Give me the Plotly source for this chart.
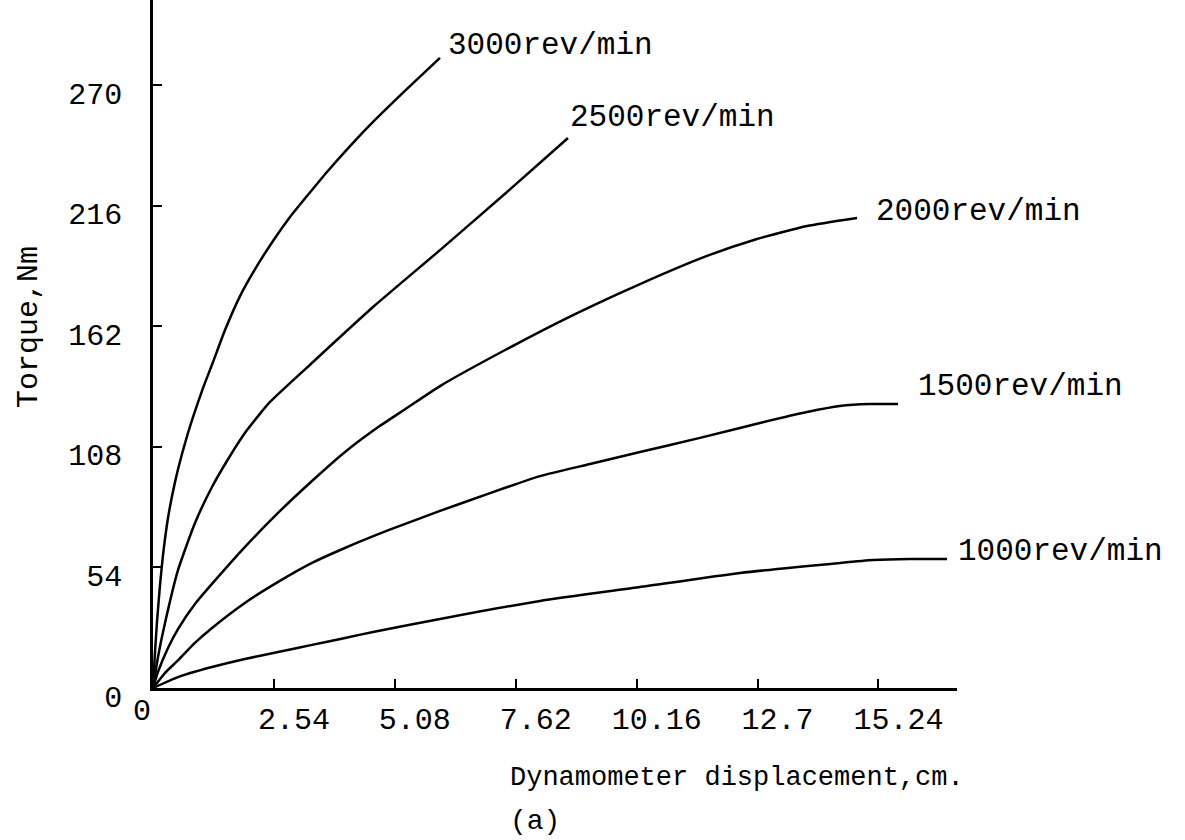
import plotly.graph_objects as go

# ---- data (x: displacement cm, y: torque Nm) ----
x_3000 = [0, 0.042, 0.084, 0.147, 0.210, 0.315, 0.462, 0.609, 0.735, 0.840, 1.050, 1.261, 1.513,
          1.828, 2.185, 2.521, 2.878, 3.235, 3.655, 4.139, 4.622, 5.336, 6.029]
y_3000 = [0, 16.1, 29.6, 46.1, 59.5, 76.1, 92.2, 104.8, 114.2, 121.3, 134.3, 146.0, 160.3,
          175.5, 189.0, 200.2, 210.9, 220.3, 231.1, 242.7, 253.5, 268.3, 282.2]

x_2500 = [0, 0.105, 0.252, 0.525, 0.882, 1.239, 1.618, 1.975, 2.458, 3.361, 4.622, 6.029, 7.437, 8.718]
y_2500 = [0, 13.9, 29.1, 52.8, 73.9, 90.0, 103.9, 115.5, 128.1, 146.0, 170.6, 196.1, 222.1, 246.3]

x_2000 = [0, 0.105, 0.315, 0.525, 0.882, 1.239, 1.933, 2.626, 3.340, 4.034, 4.769, 5.336, 6.029,
          7.437, 8.824, 10.231, 11.639, 12.689, 13.739, 14.790]
y_2000 = [0, 7.2, 17.9, 26.4, 37.6, 46.6, 63.2, 78.4, 92.7, 105.7, 117.4, 125.4, 135.2,
          151.8, 167.0, 180.9, 193.5, 201.1, 206.9, 210.5]

x_1500 = [0, 0.25, 0.53, 0.88, 1.24, 1.93, 2.63, 3.34, 4.03, 4.96, 6.03, 7.08, 8.13, 9.18, 10.23,
          11.49, 12.75, 13.74, 14.43, 15.06, 15.65]
y_1500 = [0, 6.7, 12.5, 20.2, 26.9, 38.1, 47.5, 56.0, 62.7, 70.8, 79.3, 87.3, 94.9, 100.3, 105.7,
          112.0, 118.7, 123.6, 126.3, 127.2, 127.2]

x_1000 = [0, 0.525, 1.239, 1.933, 2.626, 3.340, 4.034, 4.622, 6.029, 8.130, 10.231, 12.332,
          14.433, 15.126, 15.903, 16.681]
y_1000 = [0, 4.9, 9.4, 13.0, 16.1, 19.3, 22.4, 25.1, 30.9, 39.0, 45.2, 51.5,
          56.0, 57.3, 57.8, 57.8]

series_names = ["3000rev/min", "2500rev/min", "2000rev/min", "1500rev/min", "1000rev/min"]
series_x = [x_3000, x_2500, x_2000, x_1500, x_1000]
series_y = [y_3000, y_2500, y_2000, y_1500, y_1000]

x_tickvals = [2.54, 5.08, 7.62, 10.16, 12.7, 15.24]
x_ticktext = ["2.54", "5.08", "7.62", "10.16", "12.7", "15.24"]
y_tickvals = [0, 54, 108, 162, 216, 270]
y_ticktext = ["0", "54", "108", "162", "216", "270"]

FONT = "Liberation Mono, Courier New, monospace"

fig = go.Figure()
for name, xs, ys in zip(series_names, series_x, series_y):
    fig.add_trace(go.Scatter(x=xs, y=ys, mode="lines", name=name,
                             line=dict(color="black", width=2.5, shape="spline", smoothing=0.5),
                             cliponaxis=False, showlegend=False, hoverinfo="skip"))

# curve-end labels: (xshift, yshift) in pixels relative to curve end
label_shifts = [(6, 12), (0, 21), (17, 6), (18, 17), (9, 7)]
for name, xs, ys, (dx, dy) in zip(series_names, series_x, series_y, label_shifts):
    fig.add_annotation(x=xs[-1], y=ys[-1], text=name, showarrow=False,
                       xanchor="left", yanchor="middle", xshift=dx, yshift=dy,
                       font=dict(family=FONT, size=31, color="black"))

# x-axis "0" label, axis titles, caption
fig.add_annotation(x=0, y=0, text="0", showarrow=False, xanchor="center", yanchor="middle",
                   xshift=-11, yshift=-24, font=dict(family=FONT, size=30, color="black"))
fig.add_annotation(x=0, y=0, text="Torque,Nm", showarrow=False, textangle=-90,
                   xanchor="center", yanchor="middle", xshift=-124, yshift=361,
                   font=dict(family=FONT, size=30, color="black"))
fig.add_annotation(x=0, y=0, text="Dynamometer displacement,cm.", showarrow=False,
                   xanchor="left", yanchor="middle", xshift=355, yshift=-90,
                   font=dict(family=FONT, size=27, color="black"))
fig.add_annotation(x=0, y=0, text="(a)", showarrow=False,
                   xanchor="left", yanchor="middle", xshift=355, yshift=-133,
                   font=dict(family=FONT, size=28, color="black"))

fig.update_layout(
    width=1185, height=840,
    margin=dict(l=153, r=228, t=0, b=152),
    paper_bgcolor="white", plot_bgcolor="white",
    font=dict(family=FONT, color="black"),
)
fig.update_xaxes(range=[0, 16.89], showgrid=False, zeroline=False, showline=True,
                 linecolor="black", linewidth=2.5,
                 tickmode="array", tickvals=x_tickvals, ticktext=x_ticktext,
                 ticks="inside", ticklen=9, tickwidth=2, tickcolor="black",
                 tickfont=dict(family=FONT, size=30, color="black"),
                 ticklabelshift=20, ticklabelstandoff=2)
fig.update_yaxes(range=[0, 308.1], showgrid=False, zeroline=False, showline=True,
                 linecolor="black", linewidth=2.5,
                 tickmode="array", tickvals=y_tickvals, ticktext=y_ticktext,
                 ticks="inside", ticklen=9, tickwidth=2, tickcolor="black",
                 tickfont=dict(family=FONT, size=30, color="black"),
                 ticklabelshift=8, ticklabelstandoff=22)

fig.write_html("out.html")
